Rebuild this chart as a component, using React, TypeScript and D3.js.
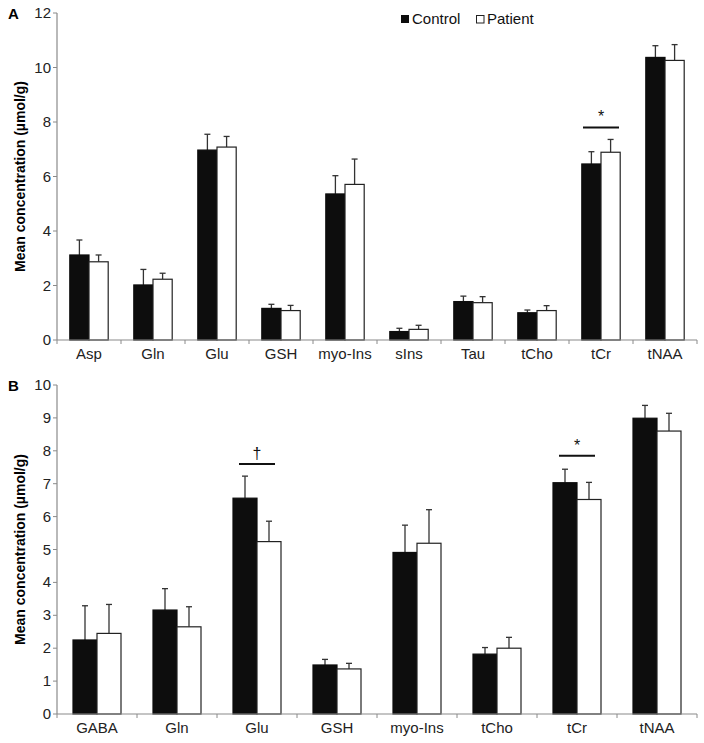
import React from "react";
import * as d3 from "d3";

const catsA = ["Asp", "Gln", "Glu", "GSH", "myo-Ins", "sIns", "Tau", "tCho", "tCr", "tNAA"];
const ctrlA = [3.12, 2.02, 6.97, 1.16, 5.36, 0.31, 1.41, 1.0, 6.46, 10.37];
const ctrlErrA = [0.55, 0.57, 0.58, 0.15, 0.67, 0.12, 0.2, 0.1, 0.45, 0.43];
const patA = [2.87, 2.23, 7.08, 1.08, 5.71, 0.39, 1.37, 1.08, 6.89, 10.26];
const patErrA = [0.25, 0.22, 0.39, 0.19, 0.93, 0.15, 0.22, 0.18, 0.47, 0.58];
const ticksA = [0, 2, 4, 6, 8, 10, 12];

const catsB = ["GABA", "Gln", "Glu", "GSH", "myo-Ins", "tCho", "tCr", "tNAA"];
const ctrlB = [2.25, 3.16, 6.56, 1.49, 4.91, 1.82, 7.03, 8.99];
const ctrlErrB = [1.04, 0.65, 0.67, 0.17, 0.83, 0.2, 0.41, 0.39];
const patB = [2.45, 2.65, 5.24, 1.37, 5.19, 2.0, 6.52, 8.6];
const patErrB = [0.88, 0.61, 0.62, 0.17, 1.02, 0.33, 0.52, 0.54];
const ticksB = [0, 1, 2, 3, 4, 5, 6, 7, 8, 9, 10];

const FONT = "'Liberation Sans', Arial, sans-serif";
const AXIS = "#8a8a8a";

type Sig = { cat: string; level: number; symbol: string };

function Panel(props: {
  label: string;
  cats: string[];
  ctrl: number[];
  ctrlErr: number[];
  pat: number[];
  patErr: number[];
  ticks: number[];
  yMax: number;
  top: number;
  bottom: number;
  sigs: Sig[];
}) {
  const { label, cats, ctrl, ctrlErr, pat, patErr, ticks, yMax, top, bottom, sigs } = props;
  const left = 57;
  const right = 697;
  const x = d3.scaleBand<string>().domain(cats).range([left, right]).paddingInner(0.4).paddingOuter(0.2);
  const sub = d3.scaleBand<string>().domain(["c", "p"]).range([0, x.bandwidth()]);
  const y = d3.scaleLinear().domain([0, yMax]).range([bottom, top]);
  const step = x.step();
  const bw = sub.bandwidth();
  const titleY = (top + bottom) / 2;

  const bars = (vals: number[], errs: number[], key: "c" | "p") =>
    cats.map((c, i) => {
      const bx = (x(c) as number) + (sub(key) as number);
      const cx = bx + bw / 2;
      return (
        <g key={key + c}>
          <line x1={cx} x2={cx} y1={y(vals[i])} y2={y(vals[i] + errs[i])} stroke="#333" strokeWidth={1.3} />
          <line x1={cx - 3} x2={cx + 3} y1={y(vals[i] + errs[i])} y2={y(vals[i] + errs[i])} stroke="#333" strokeWidth={1.3} />
          <rect
            x={bx}
            y={y(vals[i])}
            width={bw}
            height={bottom - y(vals[i])}
            fill={key === "c" ? "#0d0d0d" : "#ffffff"}
            stroke={key === "c" ? "#0d0d0d" : "#222"}
            strokeWidth={1.2}
          />
        </g>
      );
    });

  return (
    <g>
      <text x={8} y={top + 6} fontFamily={FONT} fontWeight="bold" fontSize={15}>
        {label}
      </text>
      <text
        transform={`translate(25,${titleY}) rotate(-90)`}
        textAnchor="middle"
        fontFamily={FONT}
        fontWeight="bold"
        fontSize={14}
      >
        Mean concentration (µmol/g)
      </text>
      {ticks.map((t) => (
        <g key={t}>
          <line x1={left - 4} x2={left} y1={y(t)} y2={y(t)} stroke={AXIS} />
          <text x={left - 6} y={y(t) + 5} textAnchor="end" fontFamily={FONT} fontSize={15} fill="#222">
            {t}
          </text>
        </g>
      ))}
      <line x1={left} x2={left} y1={y(yMax)} y2={bottom} stroke={AXIS} strokeWidth={1.2} />
      {bars(ctrl, ctrlErr, "c")}
      {bars(pat, patErr, "p")}
      <line x1={left} x2={right} y1={bottom} y2={bottom} stroke={AXIS} strokeWidth={1.2} />
      {d3.range(cats.length + 1).map((i) => (
        <line key={i} x1={left + i * step} x2={left + i * step} y1={bottom} y2={bottom + 4} stroke={AXIS} />
      ))}
      {cats.map((c) => (
        <text
          key={c}
          x={(x(c) as number) + x.bandwidth() / 2}
          y={bottom + 19}
          textAnchor="middle"
          fontFamily={FONT}
          fontSize={15}
          fill="#222"
        >
          {c}
        </text>
      ))}
      {sigs.map((s) => {
        const cx = (x(s.cat) as number) + x.bandwidth() / 2;
        const ly = y(s.level);
        return (
          <g key={s.cat}>
            <line x1={cx - 18} x2={cx + 18} y1={ly} y2={ly} stroke="#111" strokeWidth={2} />
            <text x={cx} y={ly - 5} textAnchor="middle" fontFamily={FONT} fontSize={16} fill="#111">
              {s.symbol}
            </text>
          </g>
        );
      })}
    </g>
  );
}

export default function App() {
  return (
    <svg width={704} height={743} style={{ display: "block", position: "absolute", left: 0, top: 0 }}>
      <rect width={704} height={743} fill="#fff" />
      <Panel
        label="A"
        cats={catsA}
        ctrl={ctrlA}
        ctrlErr={ctrlErrA}
        pat={patA}
        patErr={patErrA}
        ticks={ticksA}
        yMax={12}
        top={13}
        bottom={340}
        sigs={[{ cat: "tCr", level: 7.8, symbol: "*" }]}
      />
      <Panel
        label="B"
        cats={catsB}
        ctrl={ctrlB}
        ctrlErr={ctrlErrB}
        pat={patB}
        patErr={patErrB}
        ticks={ticksB}
        yMax={10}
        top={385}
        bottom={714}
        sigs={[
          { cat: "Glu", level: 7.6, symbol: "†" },
          { cat: "tCr", level: 7.85, symbol: "*" },
        ]}
      />
      <g fontFamily={FONT} fontSize={15} fill="#111">
        <rect x={401} y={15} width={8} height={8} fill="#0d0d0d" />
        <text x={412} y={24}>Control</text>
        <rect x={476.5} y={15.5} width={7.5} height={7.5} fill="#fff" stroke="#222" strokeWidth={1} />
        <text x={487} y={24}>Patient</text>
      </g>
    </svg>
  );
}
